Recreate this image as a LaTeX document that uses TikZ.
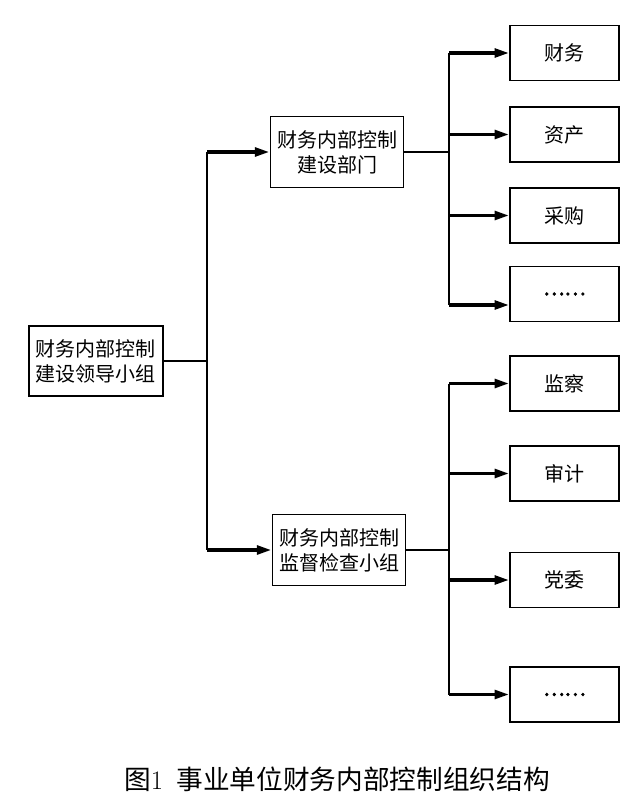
\documentclass[tikz,border=0pt]{standalone}
\usepackage{fontspec}
\newfontfamily\cjk{Noto Sans CJK SC}
\newfontfamily\cjkdots[FakeBold=3]{Noto Sans CJK SC}
\usetikzlibrary{arrows.meta}
\begin{document}
\begin{tikzpicture}[x=0.75pt,y=-0.75pt,
  box/.style={draw, line width=1.2pt, align=center, inner sep=0pt,
    font=\cjk\fontsize{15pt}{18.75pt}\selectfont},
  midbox/.style={box, minimum width=100pt, minimum height=53pt},
  leafbox/.style={box, minimum width=81.75pt, minimum height=41.25pt},
  arr/.style={line width=2.6pt, -{Triangle[length=11pt,width=6.5pt]}},
  bus/.style={line width=1.6pt},
  link/.style={line width=1.1pt}]
\useasboundingbox (0,0) rectangle (643,800);
\node[midbox, minimum width=100.5pt, minimum height=52.5pt] (lead) at (96,361) {财务内部控制\\建设领导小组};
\node[midbox] (build) at (337,152) {财务内部控制\\建设部门};
\node[midbox] (check) at (339,550) {财务内部控制\\监督检查小组};
\node[leafbox] (b1) at (564.5,53) {财务};
\node[leafbox] (b2) at (564.5,134.5) {资产};
\node[leafbox] (b3) at (564.5,215.5) {采购};
\node[leafbox] (b4) at (564.5,294) {\cjkdots ……};
\node[leafbox] (c1) at (564.5,383.5) {监察};
\node[leafbox] (c2) at (564.5,473.5) {审计};
\node[leafbox] (c3) at (564.5,580) {党委};
\node[leafbox] (c4) at (564.5,694.5) {\cjkdots ……};
\coordinate (jl) at (207,0);
\coordinate (ju) at (449,0);
\coordinate (t4) at ([yshift=-8.25pt]b4.west);
% left bus
\draw[link] (lead.east) -- (lead.east -| jl);
\draw[bus] (build.west -| jl) -- (check.west -| jl);
\draw[arr] (build.west -| jl) -- (build.west);
\draw[arr] (check.west -| jl) -- (check.west);
% upper bus
\draw[link] (build.east) -- (build.east -| ju);
\draw[bus] (b1.west -| ju) -- (t4 -| ju);
\draw[arr] (b1.west -| ju) -- (b1.west);
\draw[arr] (b2.west -| ju) -- (b2.west);
\draw[arr] (b3.west -| ju) -- (b3.west);
\draw[arr] (t4 -| ju) -- (t4);
% lower bus
\draw[link] (check.east) -- (check.east -| ju);
\draw[bus] (c1.west -| ju) -- (c4.west -| ju);
\foreach \n in {c1,c2,c3,c4}
  \draw[arr] (\n.west -| ju) -- (\n.west);
\node[font=\fontsize{20pt}{24pt}\selectfont] (cap) at (337,779) {{\cjk 图}1\hspace{0.5em}{\cjk 事业单位财务内部控制组织结构}};
\end{tikzpicture}
\end{document}
